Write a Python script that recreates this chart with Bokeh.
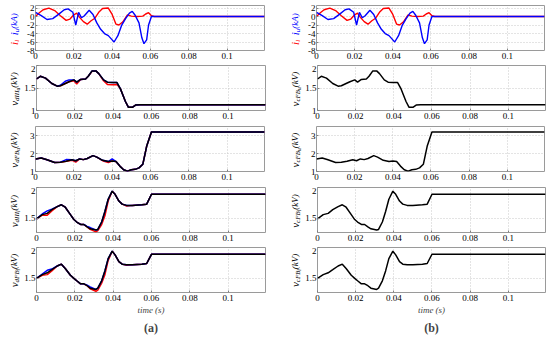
import math
from bokeh.plotting import figure
from bokeh.models import Label, FixedTicker, Range1d, Title
from bokeh.layouts import row, column
from bokeh.embed import file_html
from bokeh.resources import INLINE

FONT = "Liberation Serif"
RED = "#ff0000"
BLUE = "#0000ff"
XMAX = 0.1195

# ---------------- data ----------------
x_ticks = [0, 0.02, 0.04, 0.06, 0.08, 0.1]
x_tick_labels = ["0", "0.02", "0.04", "0.06", "0.08", "0.1"]

# row 1: arm currents (kA)
t_il = [0, 0.002, 0.004, 0.007, 0.010, 0.013, 0.016, 0.018, 0.020, 0.0215, 0.023, 0.025,
        0.027, 0.029, 0.031, 0.033, 0.035, 0.038, 0.040, 0.042, 0.0435, 0.0455, 0.048,
        0.050, 0.053, 0.056, 0.0575, 0.059, 0.0605, 0.062, 0.1195]
i_l = [0, 0.9, 1.6, 2.0, 1.4, 0.2, -0.9, -0.6, 0.4, 0.8, -0.2, -1.2,
       -1.8, -1.0, -0.4, 1.0, 1.9, 2.0, 0.5, -1.8, -2.0, -1.3, 0.4,
       0.1, 0, 0.1, 0.6, 0.9, 0.2, 0, 0]
t_iu = [0, 0.003, 0.006, 0.009, 0.012, 0.015, 0.017, 0.0195, 0.021, 0.0225, 0.024,
        0.0255, 0.028, 0.030, 0.032, 0.034, 0.036, 0.038, 0.040, 0.041, 0.043, 0.045,
        0.047, 0.049, 0.0505, 0.052, 0.054, 0.0555, 0.0566, 0.058, 0.059, 0.0605, 0.1195]
i_u = [1.0, 0.2, -0.7, -0.5, 0.5, 1.6, 1.8, 1.0, -2.0, 1.0, -0.3,
       0.2, 1.5, 0.5, -1.5, -3.0, -4.0, -4.5, -5.5, -6.0, -4.5, -2.0,
       -0.5, 0.8, 1.2, 0.3, -1.5, -5.0, -6.4, -5.5, -2.0, 0, 0]

# row 2: v_dIII_u (kV)
t_v2 = [0, 0.002, 0.0047, 0.008, 0.0108, 0.0125, 0.015, 0.017, 0.0195, 0.021, 0.023,
        0.0256, 0.027, 0.029, 0.031, 0.0325, 0.035, 0.037, 0.0395, 0.042, 0.0438, 0.0464,
        0.048, 0.050, 0.0517, 0.054, 0.1195]
v2_blk = [1.70, 1.76, 1.72, 1.60, 1.54, 1.55, 1.60, 1.64, 1.68, 1.63, 1.69,
          1.70, 1.76, 1.88, 1.88, 1.82, 1.68, 1.63, 1.62, 1.62, 1.48, 1.20,
          1.07, 1.07, 1.12, 1.13, 1.13]
v2_red = [1.70, 1.76, 1.72, 1.60, 1.54, 1.55, 1.60, 1.64, 1.66, 1.59, 1.69,
          1.70, 1.76, 1.87, 1.88, 1.82, 1.66, 1.58, 1.57, 1.58, 1.48, 1.20,
          1.07, 1.07, 1.12, 1.13, 1.13]
v2_blu = [1.70, 1.76, 1.72, 1.60, 1.54, 1.56, 1.65, 1.68, 1.68, 1.63, 1.69,
          1.70, 1.76, 1.88, 1.88, 1.82, 1.68, 1.63, 1.62, 1.62, 1.48, 1.20,
          1.07, 1.07, 1.12, 1.13, 1.13]

# row 3: v_dFB_u (kV)
t_v3 = [0, 0.003, 0.006, 0.010, 0.013, 0.016, 0.019, 0.021, 0.023, 0.025, 0.027,
        0.030, 0.032, 0.035, 0.038, 0.040, 0.042, 0.044, 0.046, 0.048, 0.050, 0.052,
        0.054, 0.056, 0.058, 0.0605, 0.062, 0.1195]
v3_blk = [1.70, 1.75, 1.65, 1.50, 1.52, 1.57, 1.65, 1.60, 1.70, 1.66, 1.72,
          1.88, 1.80, 1.62, 1.55, 1.58, 1.55, 1.30, 1.10, 1.02, 1.10, 1.12,
          1.20, 1.40, 2.40, 3.20, 3.20, 3.20]
v3_red = [1.70, 1.75, 1.65, 1.50, 1.52, 1.57, 1.63, 1.52, 1.70, 1.66, 1.72,
          1.88, 1.80, 1.60, 1.50, 1.58, 1.55, 1.30, 1.10, 1.02, 1.10, 1.12,
          1.20, 1.40, 2.40, 3.20, 3.20, 3.20]
v3_blu = [1.70, 1.75, 1.65, 1.50, 1.52, 1.66, 1.65, 1.60, 1.70, 1.66, 1.72,
          1.88, 1.80, 1.62, 1.55, 1.70, 1.55, 1.30, 1.10, 1.02, 1.10, 1.12,
          1.20, 1.40, 2.40, 3.20, 3.20, 3.20]

# rows 4 and 5: v_dIII_l and v_dFB_l (kV)
t_v45 = [0, 0.003, 0.0056, 0.008, 0.0108, 0.013, 0.015, 0.0177, 0.0195, 0.021, 0.023,
         0.0247, 0.0264, 0.028, 0.031, 0.032, 0.034, 0.0357, 0.0374, 0.0395, 0.041,
         0.043, 0.0447, 0.047, 0.050, 0.055, 0.0575, 0.060, 0.1195]
v4_blk = [1.49, 1.56, 1.58, 1.64, 1.69, 1.72, 1.68, 1.56, 1.48, 1.44, 1.40,
          1.40, 1.36, 1.33, 1.31, 1.32, 1.44, 1.61, 1.81, 1.94, 1.89,
          1.78, 1.73, 1.71, 1.71, 1.72, 1.73, 1.89, 1.89]
v4_red = [1.49, 1.55, 1.55, 1.62, 1.69, 1.72, 1.68, 1.56, 1.48, 1.44, 1.40,
          1.40, 1.36, 1.32, 1.28, 1.30, 1.40, 1.54, 1.78, 1.94, 1.89,
          1.78, 1.73, 1.70, 1.71, 1.72, 1.73, 1.89, 1.89]
v4_blu = [1.49, 1.57, 1.62, 1.65, 1.69, 1.72, 1.68, 1.56, 1.48, 1.44, 1.40,
          1.40, 1.37, 1.35, 1.31, 1.32, 1.44, 1.61, 1.81, 1.94, 1.89,
          1.78, 1.73, 1.71, 1.71, 1.72, 1.73, 1.89, 1.89]
v5_blk = [1.50, 1.56, 1.59, 1.64, 1.70, 1.73, 1.66, 1.55, 1.50, 1.46, 1.41,
          1.41, 1.38, 1.34, 1.32, 1.34, 1.46, 1.62, 1.82, 1.94, 1.88,
          1.77, 1.73, 1.72, 1.72, 1.73, 1.74, 1.89, 1.89]
v5_red = [1.50, 1.55, 1.56, 1.62, 1.70, 1.73, 1.66, 1.55, 1.50, 1.46, 1.41,
          1.41, 1.38, 1.33, 1.29, 1.31, 1.42, 1.56, 1.79, 1.94, 1.88,
          1.77, 1.73, 1.71, 1.72, 1.73, 1.74, 1.89, 1.89]
v5_blu = [1.50, 1.57, 1.63, 1.65, 1.70, 1.73, 1.66, 1.55, 1.50, 1.46, 1.41,
          1.41, 1.39, 1.36, 1.32, 1.34, 1.46, 1.62, 1.82, 1.94, 1.88,
          1.77, 1.73, 1.72, 1.72, 1.73, 1.74, 1.89, 1.89]

# y axes: range, tick values, tick labels
y_range_1 = (-8, 2.6)
y_ticks_1 = [-8, -6, -4, -2, 0, 2]
y_labels_1 = ["-8", "-6", "-4", "-2", "0", "2"]
y_range_2 = (1, 2)
y_ticks_2 = [1, 1.5, 2]
y_labels_2 = ["1", "1.5", "2"]
y_range_3 = (1, 3.5)
y_ticks_3 = [1, 2, 3]
y_labels_3 = ["1", "2", "3"]
y_range_45 = (1.27, 2)
y_ticks_45 = [1.5, 2]
y_labels_45 = ["1.5", "2"]

# ---------------- layout ----------------
FRAME_H = 45
# (top border, bottom border) of each of the five rows
BORDERS = [(5, 15), (0, 16), (0, 16), (0, 15), (0, 42)]
PLOT_LB = 14
CHAR_W = {"v": 0.44, "d": 0.5, "I": 0.33, "F": 0.61, "B": 0.61, "u": 0.5, "l": 0.28,
          "c": 0.44, "i": 0.28, "(": 0.33, ")": 0.33, "k": 0.44, "V": 0.61, "A": 0.61,
          " ": 0.25, ",": 0.25}


def text_w(s, size):
    return sum(CHAR_W.get(ch, 0.5) for ch in s) * size


def label_fig(width, k, pieces):
    """Narrow figure holding the rotated y-axis title (with subscripts)."""
    top, bottom = BORDERS[k]
    lf = figure(width=width, height=top + FRAME_H + bottom,
                x_range=Range1d(0, width), y_range=Range1d(0, FRAME_H),
                min_border_left=0, min_border_right=0, min_border_top=top,
                min_border_bottom=bottom, x_axis_location=None, y_axis_location=None,
                output_backend="svg", toolbar_location=None)
    lf.grid.visible = False
    lf.outline_line_color = None
    lf.background_fill_color = "white"
    lf.border_fill_color = "white"
    total = sum(text_w(s, sz) for s, sz, dr, c in pieces)
    xbase = width - 7.5
    y = FRAME_H / 2 - total / 2
    for s, sz, dr, c in pieces:
        lf.add_layout(Label(x=xbase + dr, y=y, text=s, angle=math.pi / 2,
                            text_align="left", text_baseline="alphabetic",
                            text_font=FONT, text_font_style="italic",
                            text_font_size=f"{sz}px", text_color=c))
        y += text_w(s, sz)
    return lf


def make_fig(left_col, k, yr, yt, yl):
    top, bottom = BORDERS[k]
    last = k == 4
    if left_col:
        kw = dict(frame_width=229, min_border_right=8)
    else:
        kw = dict(frame_width=228, min_border_right=2)
    p = figure(frame_height=FRAME_H, x_range=Range1d(0, XMAX), y_range=Range1d(*yr),
               output_backend="svg", toolbar_location=None, min_border_left=PLOT_LB,
               min_border_top=top, min_border_bottom=bottom, **kw)
    p.background_fill_color = "white"
    p.border_fill_color = "white"
    p.outline_line_color = "#9a9a9a"
    p.xaxis.ticker = FixedTicker(ticks=x_ticks)
    p.xaxis.major_label_overrides = {v: s for v, s in zip(x_ticks, x_tick_labels)}
    p.yaxis.ticker = FixedTicker(ticks=yt)
    p.yaxis.major_label_overrides = {v: s for v, s in zip(yt, yl)}
    for ax in (p.xaxis[0], p.yaxis[0]):
        ax.axis_line_color = None
        ax.major_tick_in = 2
        ax.major_tick_out = 0
        ax.major_tick_line_color = "#808080"
        ax.minor_tick_line_color = None
        ax.major_label_text_font = FONT
        ax.major_label_text_font_size = "9px"
        ax.major_label_text_color = "black"
    p.xaxis.major_label_standoff = 2
    p.yaxis.major_label_standoff = 1
    p.grid.grid_line_color = "#c8c8c8"
    p.grid.grid_line_dash = "1 2"
    if last:
        p.xaxis.axis_label = "time (s)"
        p.xaxis.axis_label_text_font = FONT
        p.xaxis.axis_label_text_font_style = "italic"
        p.xaxis.axis_label_text_font_size = "9px"
        p.xaxis.axis_label_standoff = 1
        p.add_layout(Title(text="(a)" if left_col else "(b)", align="center", text_font=FONT,
                           text_font_style="bold", text_font_size="12px", standoff=2,
                           offset=0), "below")
    return p


def build_column(left_col):
    lw = 21 if left_col else 29
    sub = "d" if left_col else "c"
    rows_out = []
    p = make_fig(left_col, 0, y_range_1, y_ticks_1, y_labels_1)
    p.line(t_il, i_l, line_color=RED, line_width=1.4)
    p.line(t_iu, i_u, line_color=BLUE, line_width=1.4)
    lf = label_fig(lw, 0, [("i", 11, 0, RED), ("l", 7, 2.5, RED), ("  ", 9, 0, RED),
                           ("i", 11, 0, BLUE), ("u", 7, 2.5, BLUE), (" (kA)", 9, 0, BLUE)])
    rows_out.append(row(lf, p))
    specs = [
        (y_range_2, y_ticks_2, y_labels_2, t_v2, v2_red, v2_blu, v2_blk, sub + ("III" if left_col else "FB"), "u"),
        (y_range_3, y_ticks_3, y_labels_3, t_v3, v3_red, v3_blu, v3_blk, sub + "FB", "u"),
        (y_range_45, y_ticks_45, y_labels_45, t_v45, v4_red, v4_blu, v4_blk, sub + ("III" if left_col else "FB"), "l"),
        (y_range_45, y_ticks_45, y_labels_45, t_v45, v5_red, v5_blu, v5_blk, sub + "FB", "l"),
    ]
    for k, (yr, yt, yl, tt, vr, vb, vk, s1, s2) in enumerate(specs, start=1):
        p = make_fig(left_col, k, yr, yt, yl)
        if left_col:
            p.line(tt, vr, line_color=RED, line_width=1.5)
            p.line(tt, vb, line_color=BLUE, line_width=1.5)
        p.line(tt, vk, line_color="black", line_width=1.5)
        lf = label_fig(lw, k, [("v", 11, 0, "black"), (s1, 7, 2.5, "black"), (s2, 5.5, 4, "black"),
                               (" (kV)", 9, 0, "black")])
        rows_out.append(row(lf, p))
    return column(*rows_out)


layout = row(build_column(True), build_column(False))
open("out.html", "w").write(file_html(layout, INLINE))
